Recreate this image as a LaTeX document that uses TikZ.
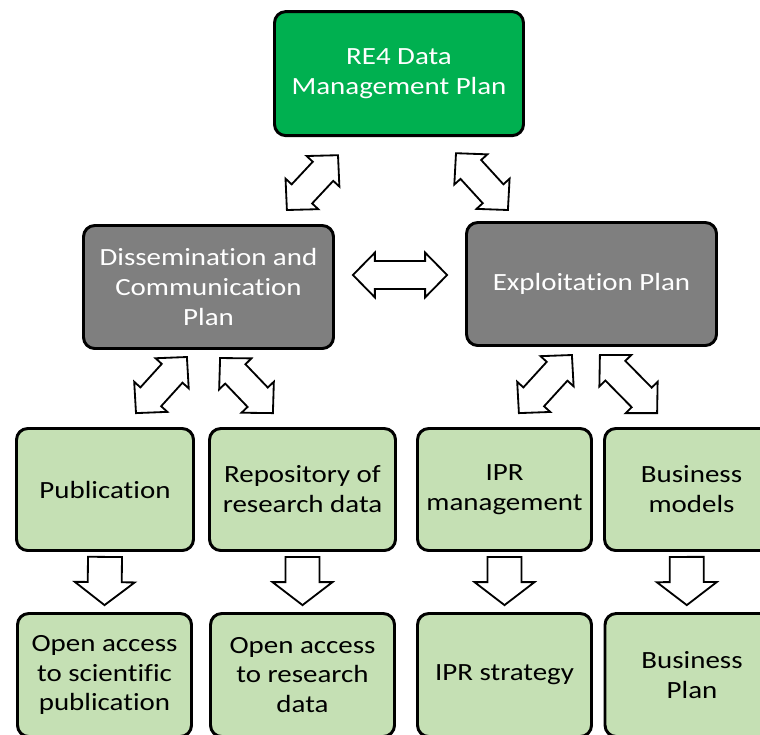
\documentclass[tikz,border=0pt]{standalone}
\usepackage{fontspec}
\setmainfont{Carlito}[FakeStretch=1.17, Ligatures=NoCommon]
\usetikzlibrary{calc}
\definecolor{dmpgreen}{HTML}{00B050}
\definecolor{plangray}{HTML}{7F7F7F}
\definecolor{taskgreen}{HTML}{C5E0B4}

\newcommand{\dualarrow}[2]{%
  \coordinate (ea) at #1;
  \coordinate (eb) at #2;
  \draw[blockarrow] (ea)
    -- ($(ea)!0.55cm!(eb)!0.56cm!90:(eb)$)
    -- ($(ea)!0.55cm!(eb)!0.35cm!90:(eb)$)
    -- ($(eb)!0.55cm!(ea)!0.35cm!-90:(ea)$)
    -- ($(eb)!0.55cm!(ea)!0.56cm!-90:(ea)$)
    -- (eb)
    -- ($(eb)!0.55cm!(ea)!0.56cm!90:(ea)$)
    -- ($(eb)!0.55cm!(ea)!0.35cm!90:(ea)$)
    -- ($(ea)!0.55cm!(eb)!0.35cm!-90:(eb)$)
    -- ($(ea)!0.55cm!(eb)!0.56cm!-90:(eb)$)
    -- cycle;}
\newcommand{\downblock}[2]{%
  \coordinate (ea) at #1;
  \coordinate (eb) at #2;
  \draw[blockarrow] ($(ea)!0.425cm!90:(eb)$)
    -- ($(eb)!0.575cm!(ea)!0.425cm!-90:(ea)$)
    -- ($(eb)!0.575cm!(ea)!0.75cm!-90:(ea)$)
    -- (eb)
    -- ($(eb)!0.575cm!(ea)!0.75cm!90:(ea)$)
    -- ($(eb)!0.575cm!(ea)!0.425cm!90:(ea)$)
    -- ($(ea)!0.425cm!-90:(eb)$)
    -- cycle;}

\begin{document}
\begin{tikzpicture}[
  box/.style={draw, line width=2.1pt, rounded corners=8pt, align=center, inner sep=0pt, outer sep=0pt,
    font=\fontsize{17.6}{21.3}\selectfont},
  mainbox/.style={box, fill=dmpgreen, text=white},
  planbox/.style={box, fill=plangray, text=white, minimum width=6.25cm, minimum height=3.075cm},
  taskbox/.style={box, fill=taskgreen, minimum height=3.05cm},
  resultbox/.style={box, fill=taskgreen, minimum height=3.075cm},
  blockarrow/.style={draw, fill=white, line width=1.3pt, line join=miter}
]
\useasboundingbox (0,0) rectangle (19,-18.35);
\node[mainbox, minimum width=6.225cm, minimum height=3.1cm] (dmp) at (9.975,-1.84) {RE4 Data\\Management Plan};
\node[planbox] (dcp) at (5.2125,-7.175) {Dissemination and\\Communication\\Plan};
\node[planbox] (exp) at (14.7875,-7.1) {Exploitation Plan};
\node[taskbox, minimum width=4.425cm] (pub) at (2.625,-12.2375) {Publication};
\node[taskbox, minimum width=4.65cm] (repo) at (7.5625,-12.2375) {Repository of\\research data};
\node[taskbox, minimum width=4.35cm] (iprm) at (12.6125,-12.2375) {IPR\\management};
\node[taskbox, minimum width=4.35cm] (busm) at (17.2875,-12.2375) {Business\\models};
\node[resultbox, minimum width=4.35cm] (oasp) at (2.6125,-16.875) {Open access\\to scientific\\publication};
\node[resultbox, minimum width=4.6cm] (oard) at (7.5625,-16.875) {Open access\\to research\\data};
\node[resultbox, minimum width=4.35cm] (iprs) at (12.6125,-16.875) {IPR strategy};
\node[resultbox, minimum width=4.35cm] (busp) at (17.3,-16.875) {Business\\Plan};
\dualarrow{($(dcp)+(1.96,1.925)$)}{($(dmp)+(-1.525,-2.04)$)}
\dualarrow{($(exp)+(-2.09,1.85)$)}{($(dmp)+(1.425,-1.99)$)}
\dualarrow{($(dcp)+(3.61,0.3)$)}{($(exp)+(-3.61,0.225)$)}
\dualarrow{($(pub)+(0.775,1.91)$)}{($(dcp)+(-0.54,-1.75)$)}
\dualarrow{($(dcp)+(0.29,-1.775)$)}{($(repo)+(-0.74,1.91)$)}
\dualarrow{($(iprm)+(0.36,1.91)$)}{($(exp)+(-0.49,-1.775)$)}
\dualarrow{($(exp)+(0.21,-1.775)$)}{($(busm)+(-0.86,1.91)$)}
\downblock{($(pub.south)+(0,-0.16)$)}{($(oasp.north)+(0,0.21)$)}
\downblock{($(repo.south)+(0,-0.16)$)}{($(oard.north)+(0,0.21)$)}
\downblock{($(iprm.south)+(0,-0.16)$)}{($(iprs.north)+(0,0.21)$)}
\downblock{($(busm.south)+(-0.12,-0.16)$)}{($(busp.north)+(-0.13,0.21)$)}
\end{tikzpicture}
\end{document}
